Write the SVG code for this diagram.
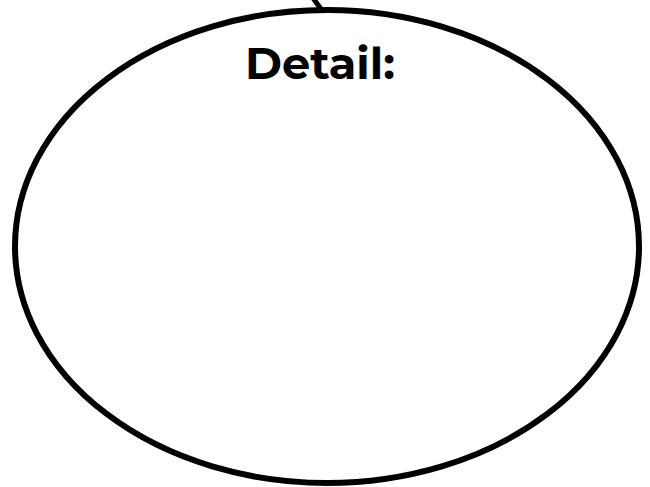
<svg xmlns="http://www.w3.org/2000/svg" width="650" height="487" viewBox="0 0 650 487">
<style>
.outline{fill:#fff;stroke:#000;stroke-width:6}
.conn{fill:none;stroke:#000;stroke-width:5}
.label{font-family:"Montserrat","Liberation Sans",Arial,sans-serif;font-weight:bold;font-size:43px;fill:#000}
</style>
<rect width="650" height="487" fill="#fff"/>
<g id="connectors">
<path class="conn" d="M313,-2 Q317,4 322,10"/>
</g>
<g id="detail">
<ellipse class="outline" cx="327" cy="246.5" rx="312" ry="236.5"/>
<text class="label" x="320" y="79" text-anchor="middle" textLength="150" lengthAdjust="spacingAndGlyphs">Detail:</text>
</g>
</svg>
